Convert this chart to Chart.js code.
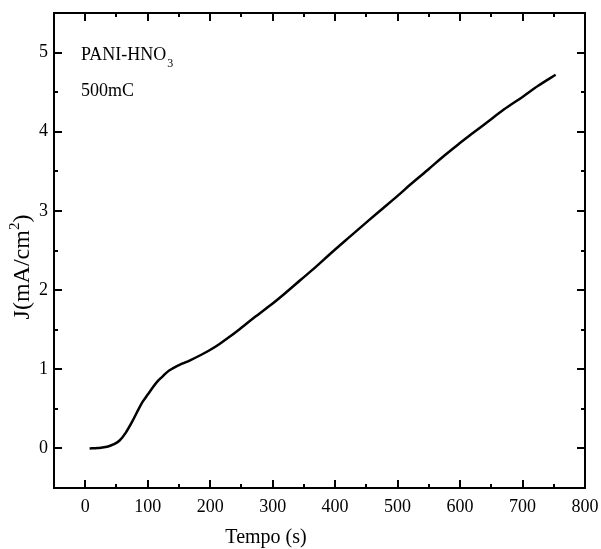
<!DOCTYPE html>
<html lang="pt">
<head>
  <meta charset="UTF-8">
  <title>PANI-HNO3 500mC</title>
  <script src="https://cdn.jsdelivr.net/npm/chart.js@4.4.1/dist/chart.umd.min.js"></script>
  <style>
    html, body { margin: 0; padding: 0; background: #fff; }
    #wrap { width: 601px; height: 549px; }
  </style>
</head>
<body>
  <div id="wrap"><canvas id="jChart"></canvas></div>

  <script>
    // values
    const tempo = [7, 20, 35, 45, 55, 65, 76, 85, 92, 100, 108, 116, 124, 132, 140, 155, 167, 185, 199, 215,
                   231, 246, 270, 300, 320, 345, 370, 391, 420, 445, 470, 500, 520, 550, 575, 597, 620, 645, 670, 700, 725, 753];
    const corrente = [0.00, 0.005, 0.02, 0.05, 0.10, 0.20, 0.35, 0.49, 0.59, 0.68, 0.77, 0.85, 0.91, 0.97, 1.01, 1.07, 1.11, 1.18, 1.24, 1.32,
                      1.41, 1.50, 1.65, 1.83, 1.96, 2.13, 2.30, 2.45, 2.65, 2.82, 2.99, 3.19, 3.33, 3.53, 3.70, 3.84, 3.98, 4.13, 4.28, 4.44, 4.58, 4.72];
    const xLabels = [0, 100, 200, 300, 400, 500, 600, 700, 800];
    const yLabels = [0, 1, 2, 3, 4, 5];

    const serif = "'Liberation Serif', 'Times New Roman', serif";

    // frame, inward ticks on all four sides, titles and the sample label
    const framePlugin = {
      id: 'frame',
      afterDraw(chart) {
        const { ctx, chartArea: a, scales } = chart;
        const xs = scales.x, ys = scales.y;
        ctx.save();
        ctx.strokeStyle = '#000';
        ctx.lineWidth = 2;
        ctx.strokeRect(a.left, a.top, a.right - a.left, a.bottom - a.top);

        ctx.beginPath();
        xs.ticks.forEach(t => {
          const v = t.value;
          if (v <= xs.min || v >= xs.max) return;
          const len = xLabels.includes(v) ? 8 : 4;
          const px = Math.round(xs.getPixelForValue(v));
          ctx.moveTo(px, a.bottom); ctx.lineTo(px, a.bottom - len);
          ctx.moveTo(px, a.top); ctx.lineTo(px, a.top + len);
        });
        ys.ticks.forEach(t => {
          const v = t.value;
          if (v <= ys.min || v >= ys.max) return;
          const len = yLabels.includes(v) ? 8 : 4;
          const py = Math.round(ys.getPixelForValue(v));
          ctx.moveTo(a.left, py); ctx.lineTo(a.left + len, py);
          ctx.moveTo(a.right, py); ctx.lineTo(a.right - len, py);
        });
        ctx.stroke();

        ctx.fillStyle = '#000';
        // x title
        ctx.font = '20px ' + serif;
        ctx.textAlign = 'center';
        ctx.textBaseline = 'alphabetic';
        ctx.fillText('Tempo (s)', 266, 543);

        // y title with superscript
        ctx.save();
        ctx.translate(29, 267);
        ctx.rotate(-Math.PI / 2);
        ctx.font = '24px ' + serif;
        const p1 = 'J(mA/cm', sup = '2', p2 = ')';
        const w1 = ctx.measureText(p1).width, w3 = ctx.measureText(p2).width;
        ctx.font = '15px ' + serif;
        const w2 = ctx.measureText(sup).width;
        let x0 = -(w1 + w2 + w3) / 2;
        ctx.textAlign = 'left';
        ctx.font = '24px ' + serif;
        ctx.fillText(p1, x0, 0);
        ctx.font = '15px ' + serif;
        ctx.fillText(sup, x0 + w1, -10);
        ctx.font = '24px ' + serif;
        ctx.fillText(p2, x0 + w1 + w2, 0);
        ctx.restore();

        // sample label
        ctx.textAlign = 'left';
        ctx.font = '18px ' + serif;
        ctx.fillText('PANI-HNO', 81, 60);
        const wh = ctx.measureText('PANI-HNO').width;
        ctx.font = '12px ' + serif;
        ctx.fillText('3', 81 + wh + 1, 67);
        ctx.font = '18px ' + serif;
        ctx.fillText('500mC', 81, 96);
        ctx.restore();
      }
    };

    new Chart(document.getElementById('jChart'), {
      type: 'line',
      data: {
        datasets: [{
          data: tempo.map((t, i) => ({ x: t, y: corrente[i] })),
          borderColor: '#000',
          borderWidth: 2.5,
          pointRadius: 0,
          fill: false,
          cubicInterpolationMode: 'monotone'
        }]
      },
      options: {
        responsive: true,
        maintainAspectRatio: false,
        animation: false,
        layout: { padding: { left: 0, right: 16, top: 13, bottom: 0 } },
        plugins: { legend: { display: false }, tooltip: { enabled: false } },
        scales: {
          x: {
            type: 'linear',
            min: -50, max: 800,
            afterFit(s) { s.height = 61; s.paddingLeft = 0; s.paddingRight = 0; },
            grid: { display: false, drawTicks: false },
            border: { display: false },
            ticks: {
              stepSize: 50,
              autoSkip: false,
              maxRotation: 0,
              padding: 8,
              color: '#000',
              font: { family: serif, size: 18 },
              callback: v => xLabels.includes(v) ? String(v) : ''
            }
          },
          y: {
            type: 'linear',
            min: -0.5, max: 5.5,
            afterFit(s) { s.width = 54; s.paddingTop = 0; s.paddingBottom = 0; },
            grid: { display: false, drawTicks: false },
            border: { display: false },
            ticks: {
              stepSize: 0.5,
              autoSkip: false,
              padding: 6,
              color: '#000',
              font: { family: serif, size: 18 },
              callback: v => yLabels.includes(v) ? String(v) : ''
            }
          }
        }
      },
      plugins: [framePlugin]
    });
  </script>
</body>
</html>
